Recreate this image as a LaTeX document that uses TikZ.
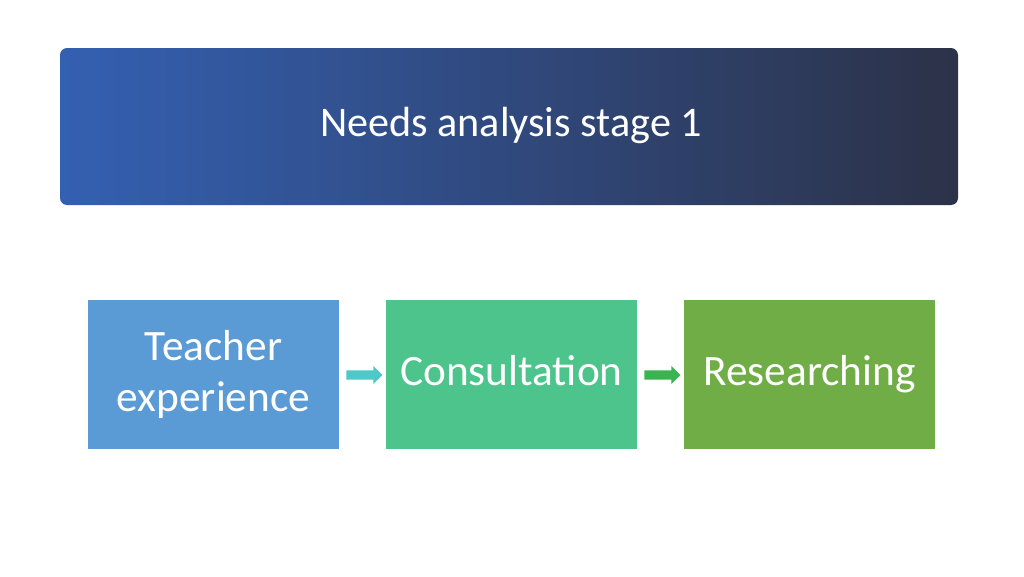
\documentclass[tikz,border=0pt]{standalone}
\usepackage{fontspec}
\setmainfont{Carlito}
\usetikzlibrary{positioning,shapes.arrows}
\definecolor{banL}{RGB}{52,96,178}
\definecolor{banR}{RGB}{44,50,72}
\definecolor{boxA}{RGB}{91,155,213}
\definecolor{boxB}{RGB}{76,196,139}
\definecolor{boxC}{RGB}{112,173,71}
\definecolor{arrA}{RGB}{78,200,200}
\definecolor{arrB}{RGB}{58,180,80}
\tikzstyle{etape}=[rectangle, minimum width=7.53cm, minimum height=4.47cm, text=white, font=\fontsize{37}{44}\selectfont, align=center, inner sep=0pt]
\tikzstyle{fleche}=[single arrow, minimum height=1.08cm, inner xsep=0pt, inner ysep=0.13cm, single arrow head extend=0.13cm, shape border rotate=0]
\begin{document}
\begin{tikzpicture}[x=0.03cm, y=-0.03cm]
    \useasboundingbox[fill=white] (0,0) rectangle (1024,576);
    % bandeau titre
    \shade[left color=banL, right color=banR, rounded corners=6pt] (60,48) rectangle (958,205);
    \node[text=white, font=\fontsize{36}{42}\selectfont] (titre) at (511,125) {Needs analysis stage 1};
    % etapes
    \node[etape, fill=boxA] (teacher) at (213.5,374.5) {Teacher\\experience};
    \node[etape, fill=boxB] (consult) at (511.5,374.5) {Consultation\vphantom{Tg}};
    \node[etape, fill=boxC] (research) at (809.5,374.5) {Researching\vphantom{Tg}};
    \node[fleche, fill=arrA] (f1) at (362,375) {};
    \node[fleche, fill=arrB] (f2) at (660,375) {};
\end{tikzpicture}
\end{document}
